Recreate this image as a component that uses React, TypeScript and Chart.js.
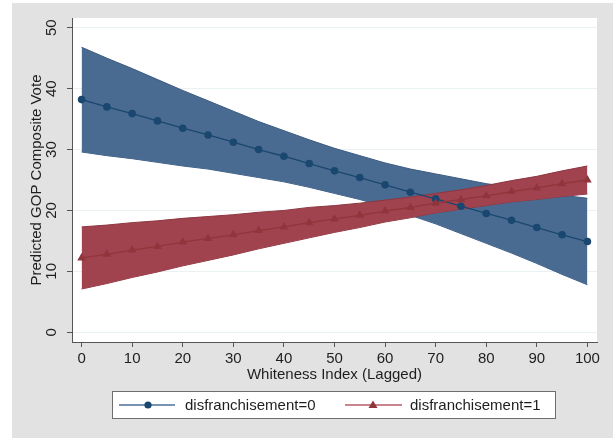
import { useEffect, useRef } from "react";
import { Chart, registerables } from "chart.js";

Chart.register(...registerables);

// Whiteness index (lagged) at which predictions are evaluated
const whiteness = [0, 5, 10, 15, 20, 25, 30, 35, 40, 45, 50, 55, 60, 65, 70, 75, 80, 85, 90, 95, 100];

// disfranchisement = 0: prediction and 95% confidence bounds
const predNoDisf = [38.2, 37.0, 35.9, 34.7, 33.5, 32.4, 31.2, 30.0, 28.9, 27.7, 26.5, 25.4, 24.2, 23.0, 21.9, 20.7, 19.5, 18.4, 17.2, 16.0, 14.9];
const upperNoDisf = [46.8, 45.0, 43.3, 41.5, 39.7, 38.0, 36.3, 34.6, 33.1, 31.6, 30.2, 29.0, 27.8, 26.8, 26.0, 25.2, 24.4, 23.8, 23.2, 22.5, 22.0];
const lowerNoDisf = [29.6, 29.0, 28.5, 27.9, 27.3, 26.8, 26.1, 25.4, 24.7, 23.8, 22.8, 21.8, 20.6, 19.2, 17.8, 16.2, 14.6, 13.0, 11.3, 9.5, 7.8];

// disfranchisement = 1: prediction and 95% confidence bounds
const predDisf = [12.2, 12.8, 13.5, 14.1, 14.8, 15.4, 16.0, 16.7, 17.3, 18.0, 18.6, 19.2, 19.9, 20.5, 21.2, 21.8, 22.4, 23.1, 23.7, 24.4, 25.0];
const upperDisf = [17.3, 17.6, 18.0, 18.3, 18.7, 19.0, 19.3, 19.7, 20.0, 20.5, 20.8, 21.2, 21.7, 22.2, 22.8, 23.4, 24.1, 24.9, 25.6, 26.5, 27.3];
const lowerDisf = [7.1, 8.0, 9.0, 9.9, 10.9, 11.8, 12.7, 13.7, 14.6, 15.5, 16.4, 17.2, 18.1, 18.8, 19.6, 20.2, 20.8, 21.4, 21.8, 22.3, 22.7];

const xTickValues = [0, 10, 20, 30, 40, 50, 60, 70, 80, 90, 100];
const yTickValues = [0, 10, 20, 30, 40, 50];

const seriesLabels = ["disfranchisement=0", "disfranchisement=1"];
const xTitle = "Whiteness Index (Lagged)";
const yTitle = "Predicted GOP Composite Vote";

const FONT = '"Liberation Sans", Arial, Helvetica, sans-serif';
const TEXT = "#1e1e1e";
const AXIS = "#555555";
const NAVY = "#1a476f";
const NAVY_BAND = "#4a6b91";
const NAVY_EDGE = "#3a5a80";
const NAVY_KEY = "#4d7098";
const MAROON = "#90353b";
const MAROON_BAND = "#a1434f";
const MAROON_EDGE = "#8d3641";
const MAROON_KEY = "#b85b66";

const pts = (ys: number[]) => whiteness.map((x, i) => ({ x, y: ys[i] }));

const backdrop = {
  id: "backdrop",
  beforeDraw(chart: any) {
    const { ctx, width, height, chartArea } = chart;
    ctx.save();
    ctx.fillStyle = "#ffffff";
    ctx.fillRect(0, 0, width, height);
    ctx.fillStyle = "#e2e2e2";
    ctx.fillRect(12, 3, width - 12, height - 3);
    ctx.fillStyle = "#ffffff";
    ctx.fillRect(chartArea.left, chartArea.top, chartArea.right - chartArea.left, chartArea.bottom - chartArea.top);
    ctx.restore();
  },
};

const keyBox = {
  id: "keyBox",
  afterDraw(chart: any) {
    const { ctx } = chart;
    ctx.save();
    ctx.fillStyle = "#ffffff";
    ctx.fillRect(112.5, 391.5, 443, 27);
    ctx.strokeStyle = "#6e6e6e";
    ctx.lineWidth = 1;
    ctx.strokeRect(112.5, 391.5, 443, 27);

    const y = 405;
    // first entry: line with circle
    ctx.strokeStyle = NAVY_KEY;
    ctx.lineWidth = 1.5;
    ctx.beginPath();
    ctx.moveTo(119, y);
    ctx.lineTo(175, y);
    ctx.stroke();
    ctx.fillStyle = NAVY;
    ctx.beginPath();
    ctx.arc(148, y, 3.6, 0, Math.PI * 2);
    ctx.fill();

    // second entry: line with triangle
    ctx.strokeStyle = MAROON_KEY;
    ctx.beginPath();
    ctx.moveTo(345, y);
    ctx.lineTo(402, y);
    ctx.stroke();
    ctx.fillStyle = MAROON;
    ctx.beginPath();
    ctx.moveTo(373, y - 4.5);
    ctx.lineTo(377.5, y + 3);
    ctx.lineTo(368.5, y + 3);
    ctx.closePath();
    ctx.fill();

    ctx.fillStyle = TEXT;
    ctx.font = `15px ${FONT}`;
    ctx.textBaseline = "middle";
    ctx.textAlign = "left";
    ctx.fillText(seriesLabels[0], 185, y + 0.5);
    ctx.fillText(seriesLabels[1], 410, y + 0.5);
    ctx.restore();
  },
};

export default function App() {
  const ref = useRef<HTMLCanvasElement | null>(null);

  useEffect(() => {
    if (!ref.current) return;
    const band = {
      pointRadius: 0,
      pointHoverRadius: 0,
      borderWidth: 1,
      tension: 0,
    };
    const chart = new Chart(ref.current, {
      type: "line",
      data: {
        datasets: [
          {
            label: seriesLabels[1],
            data: pts(predDisf),
            borderColor: MAROON,
            backgroundColor: MAROON,
            borderWidth: 1.3,
            pointStyle: "triangle",
            pointRadius: 5,
            pointBackgroundColor: MAROON,
            pointBorderColor: MAROON,
            pointBorderWidth: 0,
            fill: false,
            order: 0,
          },
          {
            label: seriesLabels[0],
            data: pts(predNoDisf),
            borderColor: NAVY,
            backgroundColor: NAVY,
            borderWidth: 1.3,
            pointStyle: "circle",
            pointRadius: 3.8,
            pointBackgroundColor: NAVY,
            pointBorderColor: NAVY,
            pointBorderWidth: 0,
            fill: false,
            order: 1,
          },
          {
            ...band,
            label: "upperDisf",
            data: pts(upperDisf),
            borderColor: MAROON_EDGE,
            backgroundColor: MAROON_BAND,
            fill: "+1",
            order: 2,
          },
          {
            ...band,
            label: "lowerDisf",
            data: pts(lowerDisf),
            borderColor: MAROON_EDGE,
            fill: false,
            order: 3,
          },
          {
            ...band,
            label: "upperNoDisf",
            data: pts(upperNoDisf),
            borderColor: NAVY_EDGE,
            backgroundColor: NAVY_BAND,
            fill: "+1",
            order: 4,
          },
          {
            ...band,
            label: "lowerNoDisf",
            data: pts(lowerNoDisf),
            borderColor: NAVY_EDGE,
            fill: false,
            order: 5,
          },
        ],
      },
      options: {
        animation: false,
        responsive: false,
        events: [],
        layout: { padding: { left: 12, top: 18, right: 16, bottom: 0 } },
        plugins: {
          legend: { display: false },
          tooltip: { enabled: false },
        },
        scales: {
          x: {
            type: "linear",
            min: -1.9,
            max: 101.9,
            afterBuildTicks: (s: any) => {
              s.ticks = xTickValues.map((value) => ({ value }));
            },
            afterFit: (s: any) => {
              s.height = 96;
            },
            grid: {
              drawOnChartArea: false,
              drawTicks: true,
              tickLength: 5,
              tickColor: AXIS,
            },
            border: { display: true, color: AXIS, width: 1 },
            ticks: {
              autoSkip: false,
              minRotation: 0,
              maxRotation: 0,
              padding: 3,
              color: TEXT,
              font: { size: 15, family: FONT },
            },
            title: {
              display: true,
              text: xTitle,
              color: TEXT,
              font: { size: 15, family: FONT },
              padding: { top: 0, bottom: 54 },
            },
          },
          y: {
            type: "linear",
            min: -1.6,
            max: 51.6,
            afterBuildTicks: (s: any) => {
              s.ticks = yTickValues.map((value) => ({ value }));
            },
            afterFit: (s: any) => {
              s.width = 60;
            },
            grid: {
              color: "#e9f1f3",
              lineWidth: 1,
              drawTicks: true,
              tickLength: 5,
              tickColor: AXIS,
            },
            border: { display: true, color: AXIS, width: 1 },
            ticks: {
              autoSkip: false,
              minRotation: 90,
              maxRotation: 90,
              crossAlign: "center",
              padding: 6.7,
              color: TEXT,
              font: { size: 15, family: FONT },
            },
            title: {
              display: true,
              text: yTitle,
              color: TEXT,
              font: { size: 15, family: FONT },
              padding: { top: 16, bottom: 0 },
            },
          },
        },
      } as any,
      plugins: [backdrop, keyBox],
    });
    return () => chart.destroy();
  }, []);

  return (
    <div style={{ position: "fixed", left: 0, top: 0, width: 613, height: 438 }}>
      <canvas ref={ref} width={613} height={438} style={{ display: "block", width: 613, height: 438 }} />
    </div>
  );
}
